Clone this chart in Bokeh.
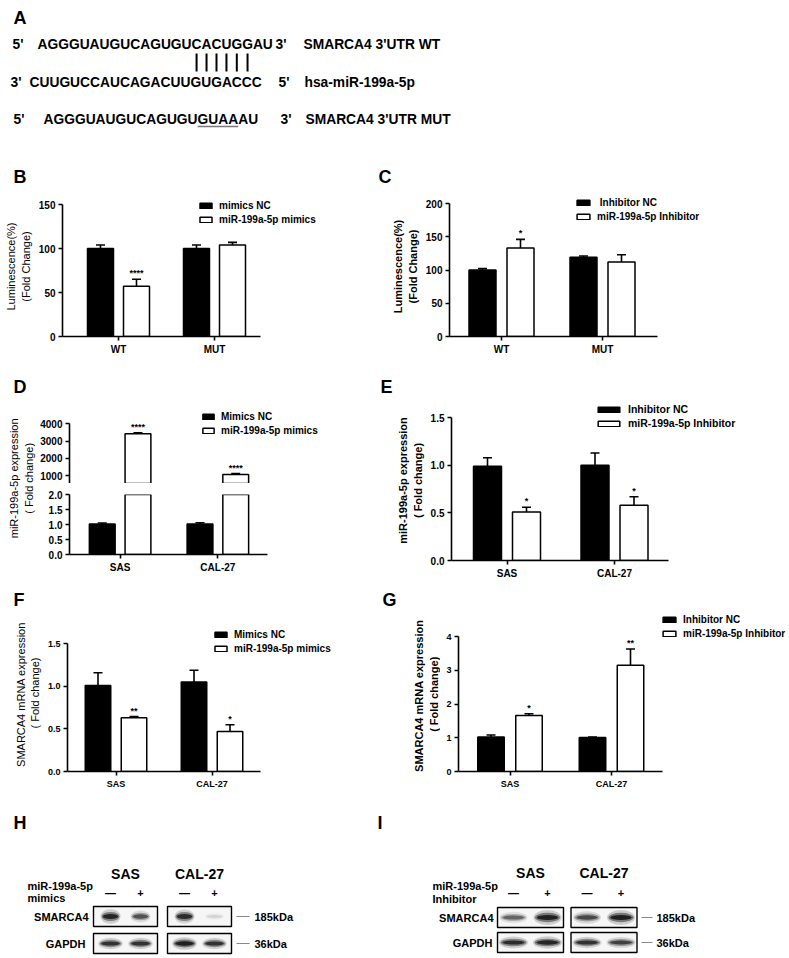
import math
from bokeh.plotting import figure
from bokeh.models import (ColumnDataSource, Range1d, Whisker, TeeHead, Legend, LegendItem,
                          FixedTicker, NumeralTickFormatter)
from bokeh.transform import dodge
from bokeh.layouts import row, column
from bokeh.core.properties import value
from bokeh.embed import file_html
from bokeh.resources import INLINE

FONT = "Liberation Sans"

# ---------------- data ----------------
# Panel A
seq_wt = "AGGGUAUGUCAGUGUCACUGGAU"
seq_mir = "CUUGUCCAUCAGACUUGUGACCC"
seq_mut = "AGGGUAUGUCAGUGUGUAAAU"
label_wt = "SMARCA4  3'UTR WT"
label_mir = "hsa-miR-199a-5p"
label_mut = "SMARCA4  3'UTR MUT"
pair_idx = [15, 16, 17, 18, 19, 20]
mut_idx = [15, 16, 17, 18]

# Panel B
lum_groups = ["WT", "MUT"]
b_names = ["mimics NC", "miR-199a-5p mimics"]
b_nc = [100, 100]
b_nc_err = [4, 4]
b_tr = [57, 104]
b_tr_err = [8, 3]
b_stars = ["****", ""]

# Panel C
c_names = [" Inhibitor NC", "miR-199a-5p Inhibitor"]
c_nc = [100, 119]
c_nc_err = [2, 2]
c_tr = [133, 112]
c_tr_err = [13, 11]
c_stars = ["*", ""]

cell_groups = ["SAS", "CAL-27"]

# Panel D
d_names = ["Mimics NC", "miR-199a-5p mimics"]
d_nc = [1.02, 1.02]
d_nc_err = [0.03, 0.04]
d_tr = [3420, 1070]
d_tr_err = [60, 60]
d_stars = ["****", "****"]

# Panel E
e_names = ["Inhibitor NC", "miR-199a-5p Inhibitor"]
e_nc = [0.99, 1.0]
e_nc_err = [0.09, 0.13]
e_tr = [0.51, 0.58]
e_tr_err = [0.05, 0.09]
e_stars = ["*", "*"]

# Panel F
f_names = ["Mimics NC", "miR-199a-5p mimics"]
f_nc = [1.01, 1.05]
f_nc_err = [0.15, 0.14]
f_tr = [0.63, 0.47]
f_tr_err = [0.015, 0.08]
f_stars = ["**", "*"]

# Panel G
g_names = ["Inhibitor NC", "miR-199a-5p Inhibitor"]
g_nc = [1.02, 1.01]
g_nc_err = [0.06, 0.01]
g_tr = [1.66, 3.15]
g_tr_err = [0.05, 0.48]
g_stars = ["*", "**"]

# Panels H, I (western blots): relative band intensity per lane (SAS -, SAS +, CAL-27 -, CAL-27 +)
blot_cells = ["SAS", "CAL-27"]
blot_treat = ["\u2014", "+"]
blot_rows = ["SMARCA4", "GAPDH"]
blot_kda = ["185kDa", "36kDa"]
h_smarca4 = [0.95, 0.65, 0.9, 0.1]
h_gapdh = [0.85, 0.85, 1.0, 0.85]
i_smarca4 = [0.55, 1.0, 0.7, 1.0]
i_gapdh = [0.9, 0.95, 0.85, 0.75]

# --------------- helpers ---------------
CW = {"A": 0.722, "C": 0.722, "G": 0.778, "U": 0.722}


def char_x(seq, x0, fs, i, frac=0.5):
    return x0 + fs * (sum(CW[c] for c in seq[:i]) + CW[seq[i]] * frac)


def base_fig(w, h, **kw):
    return figure(width=int(w), height=int(h), output_backend="svg", toolbar_location=None, **kw)


def blank_fig(x0, x1, y0, y1, flip=True):
    yr = Range1d(y1, y0) if flip else Range1d(0, y1 - y0)
    p = base_fig(x1 - x0, y1 - y0, x_range=Range1d(x0, x1), y_range=yr,
                 x_axis_type=None, y_axis_type=None, min_border=0)
    p.grid.visible = False
    p.outline_line_color = None
    return p


def style_axes(p, tick_fs, xtick_fs):
    p.outline_line_color = None
    for ax in list(p.xaxis) + list(p.yaxis):
        ax.axis_line_width = 1.6
        ax.axis_line_color = "black"
        ax.major_tick_line_width = 1.6
        ax.major_tick_line_color = "black"
        ax.major_tick_out = 4
        ax.major_tick_in = 0
        ax.minor_tick_line_color = None
        ax.major_label_text_font = FONT
        ax.major_label_text_font_style = "bold"
        ax.major_label_text_color = "black"
        ax.major_label_standoff = 3
    for ax in p.yaxis:
        ax.major_label_text_font_size = tick_fs
    for ax in p.xaxis:
        ax.major_label_text_font_size = xtick_fs


def bar_panel(groups, nc, nc_err, tr, tr_err, stars, names, geo, ylabel=None, ylabel_bold=False,
              legend_px=None, glyph_w=15, tick_fs="10px", xtick_fs="10px", show_x=True,
              show_stars=True, hide_nc=False, legend_fs="10px"):
    cx0, cy0, cw, ch = geo["cell"]
    ax0, ax1 = geo["axis_x"]
    c0, c1 = geo["centers"]
    fx1 = geo["frame_x1"]
    (va, pa_), (vb, pb_) = geo["yref"]
    ftop, fbot = geo["frame_y"]
    scale = (pa_ - pb_) / (vb - va)

    def v_at(px):
        return va + (pa_ - px) / scale

    unit = c1 - c0
    xs, xe = (ax0 - c0) / unit, (fx1 - c0) / unit
    bw, off = geo["bar_px"] / unit, geo["off_px"] / unit
    left = int(round(ax0 - cx0))
    right = int(round(cx0 + cw - fx1))
    top = int(round(ftop - cy0))
    bottom = int(round(cy0 + ch - fbot))

    n = len(groups)
    src = ColumnDataSource(dict(
        xi=list(range(n)), nc=nc, nc_hi=[a + b for a, b in zip(nc, nc_err)],
        tr=tr, tr_hi=[a + b for a, b in zip(tr, tr_err)], star=stars))
    kw = {}
    if not show_x:
        kw["x_axis_location"] = None
    p = base_fig(cw, ch, x_range=Range1d(xs, xe), y_range=Range1d(v_at(fbot), v_at(ftop)),
                 min_border_left=left, min_border_right=right, min_border_top=top,
                 min_border_bottom=bottom, **kw)
    p.xgrid.grid_line_color = None
    p.ygrid.grid_line_color = None
    r1 = p.vbar(x=dodge("xi", -off), top="nc", width=bw, source=src,
                fill_color="black", line_color="black", line_width=1.5)
    r2 = p.vbar(x=dodge("xi", off), top="tr", width=bw, source=src,
                fill_color="white", line_color="black", line_width=1.5)
    if hide_nc:
        r1.visible = False
    whisk = [(off, "tr", "tr_hi")] if hide_nc else [(-off, "nc", "nc_hi"), (off, "tr", "tr_hi")]
    for o, lo, hi in whisk:
        p.add_layout(Whisker(base=dodge("xi", o), lower=lo, upper=hi, source=src,
                             dimension="height", line_width=1.6, line_color="black", lower_head=None,
                             upper_head=TeeHead(size=9, line_width=1.6, line_color="black")))
    if show_stars:
        p.text(x=dodge("xi", off), y="tr_hi", text="star", source=src,
               text_align="center", text_baseline="bottom", y_offset=-1,
               text_font=value(FONT), text_font_style="bold", text_font_size="9px", text_color="black")
    p.yaxis.ticker = FixedTicker(ticks=geo["yticks"])
    p.yaxis.formatter = NumeralTickFormatter(format=geo["yfmt"])
    p.yaxis.bounds = (max(geo["ybounds"][0], v_at(fbot)), geo["ybounds"][1])
    if show_x:
        p.xaxis.ticker = FixedTicker(ticks=list(range(n)))
        p.xaxis.major_label_overrides = {i: g for i, g in enumerate(groups)}
        p.xaxis.bounds = (xs, (ax1 - c0) / unit)
    style_axes(p, tick_fs, xtick_fs)
    if ylabel:
        p.yaxis.axis_label = ylabel
        p.yaxis.axis_label_text_font = FONT
        p.yaxis.axis_label_text_font_size = "11px"
        p.yaxis.axis_label_text_font_style = "bold" if ylabel_bold else "normal"
        p.yaxis.axis_label_text_color = "black"
        p.yaxis.axis_label_standoff = 4
    if legend_px is not None:
        leg = Legend(items=[LegendItem(label=names[0], renderers=[r1]),
                            LegendItem(label=names[1], renderers=[r2])],
                     location=(legend_px[0] - ax0, fbot - legend_px[1]), orientation="vertical",
                     border_line_color=None, background_fill_alpha=0, padding=0, margin=0,
                     spacing=2, glyph_width=glyph_w, glyph_height=7, label_height=12,
                     label_standoff=6, label_text_font=FONT, label_text_font_style="bold",
                     label_text_font_size=legend_fs, label_text_color="black")
        p.add_layout(leg)
    return p


def ylabel_fig(x0, x1, y0, y1, xc, yc, text, bold=False):
    p = blank_fig(x0, x1, y0, y1, flip=False)
    p.text(x=[xc], y=[y1 - yc], text=[text], angle=math.pi / 2, text_align="center",
           text_baseline="middle", text_font=value(FONT), text_font_size="11px",
           text_font_style="bold" if bold else "normal", text_color="black")
    return p


W = 788
TXT = dict(text_font=value(FONT), text_font_style="bold", text_color="black")

# --------------- Panel A ---------------
pa = blank_fig(0, W, 0, 160)
FS_A = 13.8
pa.text(x=[13], y=[17.5], text=["A"], text_font_size="18px", text_baseline="middle", **TXT)
pa.text(x=[12, 37, 275, 303, 10, 29, 278, 304, 13, 43, 280, 305],
        y=[43.5, 43.5, 43.5, 43.5, 81.5, 81.5, 81.5, 81.5, 118.5, 118.5, 118.5, 118.5],
        text=["5'", seq_wt, "3'", label_wt, "3'", seq_mir, "5'", label_mir,
              "5'", seq_mut, "3'", label_mut],
        text_font_size=f"{FS_A}px", text_baseline="middle", **TXT)
bx = [char_x(seq_wt, 37, FS_A, i) for i in pair_idx]
pa.segment(x0=bx, y0=[53] * len(bx), x1=bx, y1=[71] * len(bx), line_width=2, color="black")
ux0 = char_x(seq_mut, 43, FS_A, mut_idx[0], 0.0)
ux1 = char_x(seq_mut, 43, FS_A, mut_idx[-1], 1.0)
pa.segment(x0=[ux0], y0=[126], x1=[ux1], y1=[126], line_width=1.5, color="#777777")


def letter_strip(y0, y1, letters, xs, yc):
    p = blank_fig(0, W, y0, y1)
    p.text(x=xs, y=[yc] * len(xs), text=letters, text_font_size="18px",
           text_baseline="middle", **TXT)
    return p


# --------------- Panels B, C ---------------
strip_bc = letter_strip(160, 195, ["B", "C"], [13, 378], 176.5)
pb = bar_panel(lum_groups, b_nc, b_nc_err, b_tr, b_tr_err, b_stars, b_names,
               dict(cell=(0, 195, 372, 163), axis_x=(62, 260), centers=(118, 214), frame_x1=330,
                    yref=((0, 336), (150, 204)), frame_y=(196, 336), ybounds=(0, 150),
                    yticks=[0, 50, 100, 150], yfmt="0", bar_px=26, off_px=18),
               ylabel="Luminescence(%)\n(Fold Change)", legend_px=(198, 225), glyph_w=15)
pc = bar_panel(lum_groups, c_nc, c_nc_err, c_tr, c_tr_err, c_stars, c_names,
               dict(cell=(372, 195, 416, 163), axis_x=(449, 657), centers=(501, 602), frame_x1=730,
                    yref=((0, 336), (200, 203)), frame_y=(196, 336), ybounds=(0, 200),
                    yticks=[0, 50, 100, 150, 200], yfmt="0", bar_px=27, off_px=19),
               ylabel="Luminescence(%)\n(Fold Change)", ylabel_bold=True, legend_px=(575, 222),
               glyph_w=16)

# --------------- Panel D (broken axis) ---------------
strip_de = letter_strip(358, 400, ["D", "E"], [13, 380], 386.5)
d_x = dict(axis_x=(67, 267), centers=(118, 216.5), frame_x1=330, bar_px=26, off_px=18)
pd_up = bar_panel(cell_groups, d_nc, d_nc_err, d_tr, d_tr_err, d_stars, d_names,
                  dict(cell=(37, 400, 335, 83), yref=((1000, 475.3), (4000, 423.3)),
                       frame_y=(405, 483), ybounds=(0, 4000), yticks=[1000, 2000, 3000, 4000],
                       yfmt="0", **d_x),
                  legend_px=(199, 436), glyph_w=14, show_x=False, hide_nc=True)
pd_lo = bar_panel(cell_groups, d_nc, d_nc_err, d_tr, d_tr_err, d_stars, d_names,
                  dict(cell=(37, 483, 335, 102), yref=((0, 554), (2, 494)), frame_y=(494, 554),
                       ybounds=(0, 2), yticks=[0, 0.5, 1.0, 1.5, 2.0], yfmt="0.0", **d_x),
                  show_stars=False)
pd_lab = ylabel_fig(0, 37, 400, 585, 21, 490, "miR-199a-5p expression\n( Fold change)")

# --------------- Panel E ---------------
pe = bar_panel(cell_groups, e_nc, e_nc_err, e_tr, e_tr_err, e_stars, e_names,
               dict(cell=(372, 400, 416, 185), axis_x=(451, 668), centers=(506.5, 614), frame_x1=760,
                    yref=((0, 560), (1.5, 417.3)), frame_y=(400, 560), ybounds=(0, 1.5),
                    yticks=[0, 0.5, 1.0, 1.5], yfmt="0.0", bar_px=28, off_px=19.5),
               ylabel="miR-199a-5p expression\n( Fold change)", ylabel_bold=True,
               legend_px=(595, 429), glyph_w=27, legend_fs="10.5px")

# --------------- Panels F, G ---------------
strip_fg = letter_strip(585, 612, ["F", "G"], [13, 382], 599)
pf = bar_panel(cell_groups, f_nc, f_nc_err, f_tr, f_tr_err, f_stars, f_names,
               dict(cell=(0, 612, 372, 183), axis_x=(67, 260), centers=(115.5, 211.5), frame_x1=340,
                    yref=((0, 771), (1.5, 643.3)), frame_y=(614, 771), ybounds=(0, 1.5),
                    yticks=[0, 0.5, 1.0, 1.5], yfmt="0.0", bar_px=25.5, off_px=18),
               ylabel="SMARCA4  mRNA expression\n( Fold change)", legend_px=(213, 654),
               glyph_w=15, tick_fs="9px", xtick_fs="9px")
pg_lab = ylabel_fig(372, 440, 612, 795, 426, 705, "SMARCA4  mRNA expression\n( Fold change)",
                    bold=True)
pg = bar_panel(cell_groups, g_nc, g_nc_err, g_tr, g_tr_err, g_stars, g_names,
               dict(cell=(440, 612, 348, 183), axis_x=(458, 662), centers=(509.5, 611), frame_x1=788,
                    yref=((0, 771), (4, 636)), frame_y=(614, 771), ybounds=(0, 4),
                    yticks=[0, 1, 2, 3, 4], yfmt="0", bar_px=26.5, off_px=19),
               legend_px=(661, 639), glyph_w=16, tick_fs="9px", xtick_fs="9px",
               legend_fs="10px")


# --------------- Panels H, I (blots) ---------------
def blot_panel(x0, x1, letter, letter_x, head_y, treat_lines, treat_x, treat_y, box_cx, box_w,
               lane_off, row_y, row_label_x, kda_x0, kda_x1, kda_tx, sm, gp, band_w):
    p = blank_fig(x0, x1, 795, 957)
    p.text(x=[letter_x], y=[822], text=[letter], text_font_size="18px",
           text_baseline="middle", **TXT)
    p.text(x=box_cx, y=[head_y] * len(blot_cells), text=blot_cells, text_font_size="14px",
           text_align="center", text_baseline="middle", **TXT)
    p.text(x=[treat_x] * len(treat_lines), y=treat_y, text=treat_lines, text_font_size="11px",
           text_baseline="middle", **TXT)
    lanes = [c + s * lane_off for c in box_cx for s in (-1, 1)]
    p.text(x=lanes, y=[892] * len(lanes), text=blot_treat * len(box_cx), text_font_size="11px",
           text_align="center", text_baseline="middle", **TXT)
    box_h = 20
    for k, (ry, vals, bh) in enumerate(zip(row_y, (sm, gp), (6.5, 5.5))):
        p.rect(x=box_cx, y=[ry] * len(box_cx), width=box_w, height=box_h,
               fill_color="#f6f6f6", line_color="black", line_width=1.4)
        for wm, hm, am in ((1.12, 2.0, 0.18), (1.0, 1.25, 0.45), (0.85, 0.7, 0.85)):
            p.ellipse(x=lanes, y=[ry] * len(lanes), width=[band_w[k] * wm] * len(lanes),
                      height=[bh * hm * (0.55 + 0.6 * v) for v in vals],
                      fill_color="#111111", fill_alpha=[am * v for v in vals], line_color=None)
        p.text(x=[row_label_x[k]], y=[ry], text=[blot_rows[k]], text_font_size="11px",
               text_align="right", text_baseline="middle", **TXT)
        p.segment(x0=[kda_x0], y0=[ry], x1=[kda_x1], y1=[ry], line_color="#888888", line_width=1)
        p.text(x=[kda_tx], y=[ry], text=[blot_kda[k]], text_font_size="11px",
               text_baseline="middle", **TXT)
    return p


ph = blot_panel(0, 372, "H", 13, 873, ["miR-199a-5p", "mimics"], 27, [885, 897],
                [125, 199], 64, 15, [916, 943], [88, 85], 236, 249, 254,
                h_smarca4, h_gapdh, [18, 22])
pi = blot_panel(372, W, "I", 377, 872, ["miR-199a-5p", "Inhibitor"], 432, [885, 898],
                [530, 603.5], 66, 17, [917, 942], [493, 492], 641, 652, 656,
                i_smarca4, i_gapdh, [25, 26])

layout = column(
    pa,
    strip_bc,
    row(pb, pc),
    strip_de,
    row(pd_lab, column(pd_up, pd_lo), pe),
    strip_fg,
    row(pf, pg_lab, pg),
    row(ph, pi),
)

open("out.html", "w").write(file_html(layout, INLINE))
